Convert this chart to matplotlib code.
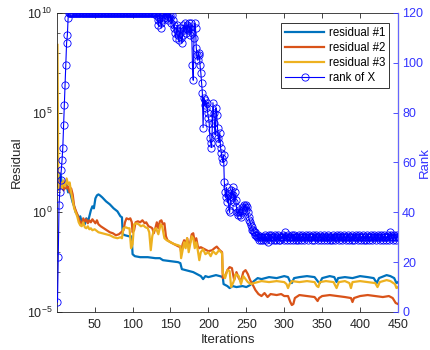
import matplotlib
matplotlib.use('Agg')
import matplotlib.pyplot as plt
import numpy as np
from matplotlib.ticker import FixedLocator, NullFormatter, LogFormatterSciNotation

plt.rcParams['font.family'] = ['Liberation Sans', 'DejaVu Sans']
plt.rcParams['mathtext.fontset'] = 'custom'
plt.rcParams['mathtext.rm'] = 'Liberation Sans'
plt.rcParams['mathtext.it'] = 'Liberation Sans:italic'

# ---------------- data ----------------
# residual #1 (iteration, log10 value)
res1_iter = [1, 3, 5, 7, 9, 11, 13, 15, 17, 19, 21, 23, 25, 27, 29, 31, 33, 35, 37, 39, 41, 43, 45, 47, 49,
             51, 53, 55, 57, 60, 65, 70, 75, 80, 84, 86, 87, 90, 95, 98, 99, 100, 103, 110, 120, 130, 136,
             140, 150, 160, 163, 165, 170, 180, 190, 193, 196, 200, 210, 215, 219, 220, 225, 228, 232, 237,
             245, 250, 255, 260, 265, 270, 280, 290, 300, 305, 308, 310, 313, 320, 330, 340, 345, 347, 350,
             360, 366, 369, 371, 380, 390, 400, 410, 418, 422, 425, 435, 440, 445, 448, 450]
res1_log = [1.6, 1.3, 1.9, 1.4, 1.5, 1.2, 1.4, 1.0, 1.1, 0.8, 0.5, 0.3, 0.0, -0.1, -0.3, -0.2, -0.5, -0.4,
            -0.6, -0.3, -0.5, -0.2, 0.1, 0.3, 0.2, 0.7, 0.85, 0.9, 0.85, 0.75, 0.55, 0.4, 0.2, 0.05, -0.2,
            -0.25, -1.1, -1.15, -1.2, -1.2, -1.3, -2.1, -2.2, -2.25, -2.25, -2.3, -2.3, -2.4, -2.45, -2.5,
            -2.55, -2.85, -2.9, -3.0, -3.2, -3.35, -3.2, -3.25, -3.15, -3.2, -3.25, -3.6, -3.7, -3.8, -3.7,
            -3.75, -3.7, -3.75, -3.65, -3.45, -3.3, -3.35, -3.25, -3.3, -3.2, -3.25, -3.5, -3.55, -3.3,
            -3.25, -3.2, -3.25, -3.5, -3.55, -3.3, -3.2, -3.25, -3.5, -3.3, -3.25, -3.3, -3.2, -3.25, -3.3,
            -3.55, -3.3, -3.15, -3.2, -3.3, -3.55, -3.5]

# residual #2
res2_iter = [1, 3, 5, 7, 9, 11, 13, 15, 17, 19, 21, 23, 25, 27, 29, 31, 33, 35, 37, 39, 41, 43, 45, 47, 49,
             51, 53, 55, 58, 62, 66, 70, 74, 78, 82, 85, 88, 90, 92, 95, 97, 99, 100, 102, 104, 107, 110,
             113, 116, 118, 121, 124, 126, 128, 130, 132, 134, 136, 138, 140, 142, 144, 146, 150, 155, 160,
             163, 164, 166, 168, 170, 172, 174, 176, 178, 180, 182, 184, 186, 188, 190, 195, 200, 205, 208,
             211, 215, 218, 219, 222, 225, 228, 231, 234, 237, 240, 243, 246, 249, 252, 255, 258, 262, 266,
             270, 274, 278, 282, 290, 296, 300, 305, 308, 310, 312, 314, 320, 330, 340, 344, 346, 350, 360,
             370, 380, 388, 390, 392, 400, 410, 420, 430, 438, 443, 447, 450]
res2_log = [1.3, 1.6, 1.2, 1.5, 1.1, 1.4, 1.2, 1.3, 1.0, 1.2, 0.9, 0.3, 0.1, -0.1, -0.3, -0.5, -0.6, -0.3,
            -0.45, -0.35, -0.55, -0.4, -0.5, -0.35, -0.45, -0.55, -0.4, -0.6, -0.7, -0.8, -0.9, -1.0, -1.05,
            -1.15, -1.1, -1.0, -0.9, -0.5, -0.3, -0.35, -0.3, -0.5, -1.0, -0.9, -0.5, -0.45, -0.5, -0.4,
            -0.55, -0.5, -0.7, -0.75, -0.8, -1.05, -0.8, -0.5, -0.8, -0.45, -0.4, -0.6, -0.55, -1.2, -1.4,
            -1.5, -1.6, -1.7, -1.75, -2.0, -1.6, -1.4, -1.6, -1.3, -1.7, -1.5, -1.1, -1.05, -1.5, -1.3,
            -1.7, -1.8, -1.75, -1.85, -1.95, -1.9, -1.8, -1.72, -1.9, -2.0, -3.3, -3.2, -2.9, -2.75, -2.8,
            -3.4, -3.0, -3.3, -3.45, -3.0, -2.9, -3.1, -3.4, -3.6, -3.9, -4.1, -4.2, -4.05, -4.25, -4.1,
            -4.15, -4.1, -4.2, -4.2, -4.5, -4.65, -4.6, -4.3, -4.15, -4.2, -4.25, -4.45, -4.3, -4.2, -4.15,
            -4.2, -4.25, -4.3, -4.5, -4.3, -4.2, -4.15, -4.2, -4.25, -4.2, -4.3, -4.55, -4.6]

# residual #3
res3_iter = [1, 2, 3, 5, 7, 9, 11, 13, 15, 17, 19, 21, 23, 25, 27, 29, 31, 33, 35, 37, 39, 41, 43, 45, 47,
             50, 55, 60, 65, 70, 75, 80, 84, 86, 88, 91, 94, 96, 98, 100, 102, 105, 108, 111, 114, 117, 120,
             122, 124, 126, 128, 131, 134, 137, 139, 142, 145, 150, 155, 160, 163, 164, 166, 168, 170, 172,
             174, 176, 178, 180, 182, 184, 186, 188, 190, 193, 196, 200, 203, 206, 210, 214, 218, 219, 222,
             225, 228, 230, 233, 236, 240, 243, 246, 249, 252, 256, 260, 265, 270, 280, 290, 300, 303, 305,
             307, 310, 320, 330, 340, 343, 345, 347, 355, 365, 369, 372, 380, 386, 388, 390, 400, 410, 420,
             423, 426, 435, 440, 446, 448, 450]
res3_log = [8.4, 1.6, 1.1, 1.5, 1.2, 1.6, 1.3, 1.7, 1.4, 1.5, 1.0, 0.6, 0.2, 0.0, -0.2, -0.5, -0.65, -0.7,
            -0.5, -0.75, -0.8, -0.7, -0.85, -0.8, -0.9, -0.85, -1.0, -1.05, -1.1, -1.15, -1.25, -1.3, -1.25,
            -1.3, -0.8, -0.75, -0.8, -0.8, -1.8, -1.6, -0.6, -0.55, -0.6, -0.7, -0.65, -0.75, -0.8, -1.0,
            -1.9, -1.2, -0.9, -0.8, -1.1, -0.6, -0.7, -1.3, -1.4, -1.5, -1.6, -1.65, -1.7, -2.3, -1.9, -1.5,
            -1.8, -1.3, -2.0, -1.6, -1.2, -1.3, -1.8, -1.5, -1.9, -2.4, -2.0, -1.85, -2.1, -2.0, -2.2, -1.95,
            -2.1, -1.9, -2.05, -3.05, -3.3, -2.9, -2.95, -3.75, -3.5, -3.1, -3.2, -3.6, -3.2, -3.35, -3.5,
            -3.6, -3.55, -3.5, -3.45, -3.5, -3.45, -3.5, -3.6, -3.8, -3.6, -3.45, -3.5, -3.45, -3.5, -3.7,
            -3.75, -3.5, -3.45, -3.5, -3.8, -3.5, -3.45, -3.55, -3.8, -3.5, -3.45, -3.5, -3.55, -3.75, -3.5,
            -3.4, -3.45, -3.6, -3.8, -3.75]

# rank of X, one value per iteration 1..450
rank_start = [4, 22, 43, 48, 53, 57, 61, 66, 75, 83, 91, 99, 108, 111, 118, 120]          # 1-16
rank_full = [120] * 114                                                                    # 17-130
rank_drop = [119, 120, 117, 115, 118, 120, 116, 114, 117, 119,
             120, 118, 120, 119, 120, 118, 117, 120, 119, 118,
             116, 119, 117, 114, 115, 112, 110, 113, 115, 111,
             109, 112, 114, 110, 108, 111, 115, 113, 116, 114,
             112, 115, 113, 116, 114, 111, 116, 112, 99, 93,
             110, 116, 114, 106, 103, 101, 104, 103, 99, 96,
             92, 88, 74, 86, 83, 85, 82, 84, 80, 78,
             76, 70, 68, 66, 73, 84, 80, 76, 71, 82,
             79, 74, 70, 68, 72, 66, 64, 62, 60, 63,
             52, 48, 46, 50, 44, 47, 41, 40, 45, 49,
             46, 50, 47, 44, 48, 45, 42, 40, 39, 41,
             40, 39, 38, 40, 41, 42, 43, 42, 43, 41,
             42, 40, 38, 37, 36, 35, 34, 33, 33, 32,
             32, 31, 31, 30, 31, 30, 29, 30, 30, 29]                                       # 131-270
rank_flat = [int(v) for v in """
30 29 30 31 30 29 30 28 30 31 30 29 31 30 30 29 30 31 29 30
30 31 29 30 29 30 30 31 30 29 32 30 29 30 31 30 29 30 30 31
29 30 31 30 29 30 30 29 31 30 30 29 30 31 30 29 30 30 31 30
29 30 31 30 30 29 30 31 29 30 30 31 30 29 30 30 31 30 29 30
30 29 31 30 30 29 30 31 30 29 30 30 29 31 30 30 29 30 31 30
30 29 30 31 30 29 30 30 31 30 29 30 30 31 30 29 30 30 29 31
30 29 30 31 30 30 29 30 31 30 29 30 30 31 29 30 30 29 31 30
30 29 30 30 31 29 30 30 31 30 29 30 31 30 30 29 30 31 30 29
30 31 30 29 30 30 31 29 30 32 31 30 29 30 31 30 29 30 31 30
""".split()]                                                                               # 271-450
rank_vals = rank_start + rank_full + rank_drop + rank_flat
rank_iter = list(range(1, len(rank_vals) + 1))

labels = ['residual #1', 'residual #2', 'residual #3', 'rank of X']
x_ticks = [50, 100, 150, 200, 250, 300, 350, 400, 450]
rank_ticks = [0, 20, 40, 60, 80, 100, 120]

# ---------------- plot ----------------
c1, c2, c3 = '#0072BD', '#D95319', '#EDB120'
rank_col = '#0000FF'
axis_blue = '#3333FF'
dark = '#262626'

fig = plt.figure(figsize=(4.31, 3.5), dpi=100)
ax = fig.add_axes([0.1334, 0.1086, 0.79, 0.8543])

l1, = ax.plot(res1_iter, 10.0 ** np.array(res1_log), color=c1, lw=1.6, label=labels[0])
l2, = ax.plot(res2_iter, 10.0 ** np.array(res2_log), color=c2, lw=1.6, label=labels[1])
l3, = ax.plot(res3_iter, 10.0 ** np.array(res3_log), color=c3, lw=1.6, label=labels[2])
ax.set_yscale('log')
ax.set_ylim(1e-5, 1e10)
ax.set_xlim(1, 450)
ax.yaxis.set_major_locator(FixedLocator([1e-5, 1e0, 1e5, 1e10]))
ax.yaxis.set_minor_locator(FixedLocator([10.0 ** k for k in range(-5, 11)]))
ax.yaxis.set_minor_formatter(NullFormatter())
ax.yaxis.set_major_formatter(LogFormatterSciNotation())
ax.set_xticks(x_ticks)
ax.set_xlabel('Iterations', fontsize=9.5, color=dark, labelpad=2.5)
ax.set_ylabel('Residual', fontsize=9.5, color=dark, labelpad=3)
ax.tick_params(axis='both', which='both', direction='in', labelsize=9, colors=dark, top=True)
ax.tick_params(axis='both', which='major', length=3.5, width=0.6)
ax.tick_params(axis='y', which='minor', length=2, width=0.5)
ax.tick_params(axis='x', pad=5)
for s in ['left', 'bottom', 'top']:
    ax.spines[s].set_color(dark)
    ax.spines[s].set_linewidth(0.6)

ax2 = ax.twinx()
l4, = ax2.plot(rank_iter, rank_vals, color=rank_col, lw=0.8, marker='o', ms=5.2,
               mfc='none', mec=rank_col, mew=0.6, label=labels[3])
ax2.set_ylim(0, 120)
ax2.set_yticks(rank_ticks)
ax2.set_xlim(1, 450)
ax2.set_ylabel('Rank', fontsize=9.5, color=axis_blue, rotation=90, va='center', ha='center')
ax2.yaxis.set_label_coords(1.08, 0.5)
ax2.tick_params(axis='y', direction='in', labelsize=9, colors=axis_blue, length=3.5, width=0.6, pad=3)
ax2.spines['right'].set_color('#6666FF')
ax2.spines['right'].set_linewidth(0.8)
for s in ['left', 'bottom', 'top']:
    ax2.spines[s].set_visible(False)

leg = ax2.legend([l1, l2, l3, l4], labels, loc='upper right', bbox_to_anchor=(0.975, 0.965),
                 fontsize=8.3, frameon=True, fancybox=False, edgecolor='black',
                 handlelength=3.4, handletextpad=0.4, borderpad=0.35, labelspacing=0.25,
                 borderaxespad=0.0, numpoints=1)
leg.get_frame().set_linewidth(0.7)

fig.savefig('out.png', dpi=100)
